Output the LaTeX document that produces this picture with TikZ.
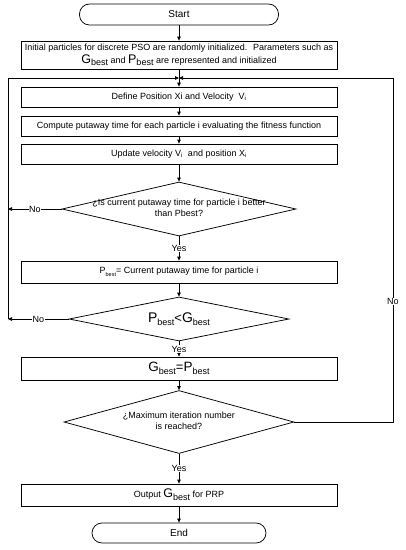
\documentclass[tikz,border=0pt]{standalone}
\usepackage{fontspec}
\setmainfont{Liberation Sans}
\usetikzlibrary{shapes.geometric,arrows.meta}

% big letter with a "best" subscript
\newcommand{\sbest}[3]{{\fontsize{#1}{#1}\selectfont #2}\raisebox{-0.3em}{\fontsize{#3}{#3}\selectfont best}}

\tikzset{
  proc/.style={draw, rectangle, minimum width=316pt, minimum height=20pt, inner sep=1pt, align=center},
  term/.style={draw, rectangle, rounded corners=10pt, minimum height=21pt, inner sep=1pt},
  decision/.style={draw, diamond, inner sep=0pt},
  arr/.style={-{Triangle[length=4pt,width=3.5pt]}},
  tag/.style={fill=white, inner sep=0.5pt}
}

\begin{document}
\begin{tikzpicture}[x=1pt, y=-1pt, line width=0.75pt, font=\fontsize{9}{10.5}\selectfont]
    \useasboundingbox (0, 0) rectangle (406, 550);

    % Start and initialisation
    \node [term, minimum width=199pt, font=\fontsize{10}{11}\selectfont] (start) at (179, 14.5) {Start};
    \node [proc, minimum height=28pt, inner ysep=0pt] (init) at (179, 55) {Initial particles for discrete PSO are randomly initialized.~ Parameters such as\\[1pt]
      \sbest{12.5}{G}{9} and \sbest{12.5}{P}{9} are represented and initialized};
    \coordinate (join) at (179, 78);
    \coordinate (lft) at (8, 78);
    \coordinate (rgt) at (393, 78);

    % Main loop
    \node [proc] (define) at (179, 97) {Define Position Xi and Velocity~ V\textsubscript{i}};
    \node [proc] (compute) at (179, 126) {Compute putaway time for each particle i evaluating the fitness function};
    \node [proc] (update) at (179, 154) {Update velocity V\textsubscript{i}~ and position X\textsubscript{i}};
    \node [decision, minimum width=234pt, minimum height=54pt, label={center:\begin{tabular}{@{}c@{}}¿Is current putaway time for particle i better\\ than Pbest?\end{tabular}}] (q1) at (179, 209) {};
    \node [proc, minimum height=22pt] (pbest) at (179, 272) {\sbest{9}{P}{5.5}= Current putaway time for particle i};
    \node [decision, minimum width=220pt, minimum height=44pt, label={center:\sbest{14}{P}{9}{\fontsize{13}{13}\selectfont<}\sbest{14}{G}{9}}] (q2) at (179, 319) {};
    \node [proc, minimum height=23pt] (gbest) at (179, 368.5) {\sbest{13.5}{G}{9}{\fontsize{13}{13}\selectfont=}\sbest{13.5}{P}{9}};
    \node [decision, minimum width=230pt, minimum height=63pt, label={center:\begin{tabular}{@{}c@{}}¿Maximum iteration number\\ is reached?\end{tabular}}] (q3) at (179, 422) {};
    \node [proc, minimum height=22pt] (output) at (179, 495) {Output \sbest{12.5}{G}{9} for PRP};
    \node [term, minimum width=174pt, minimum height=20pt, font=\fontsize{10}{11}\selectfont] (end) at (179, 533) {End};

    % Connectors
    \draw [arr] (start) -- (init);
    \draw [arr] (init) -- (define);
    \draw [arr] (define) -- (compute);
    \draw [arr] (compute) -- (update);
    \draw [arr] (update) -- (q1);
    \draw [arr] (q1) -- node [tag] {Yes} (pbest);
    \draw [arr] (pbest) -- (q2);
    \draw [arr] (q2) -- node [tag] {Yes} (gbest);
    \draw [arr] (gbest) -- (q3);
    \draw [arr] (q3) -- node [tag] {Yes} (output);
    \draw [arr] (output) -- (end);

    % Loop back
    \draw [arr] (q1.west) -- node [tag] {No} (q1.west -| lft);
    \draw [arr] (q2.west) -- node [tag] {No} (q2.west -| lft);
    \draw [arr] (q2.west -| lft) -- (lft) -- (join);
    \draw [arr] (q3.east) -| node [tag, pos=0.675] {No} (rgt) -- (join);
  \end{tikzpicture}
\end{document}
